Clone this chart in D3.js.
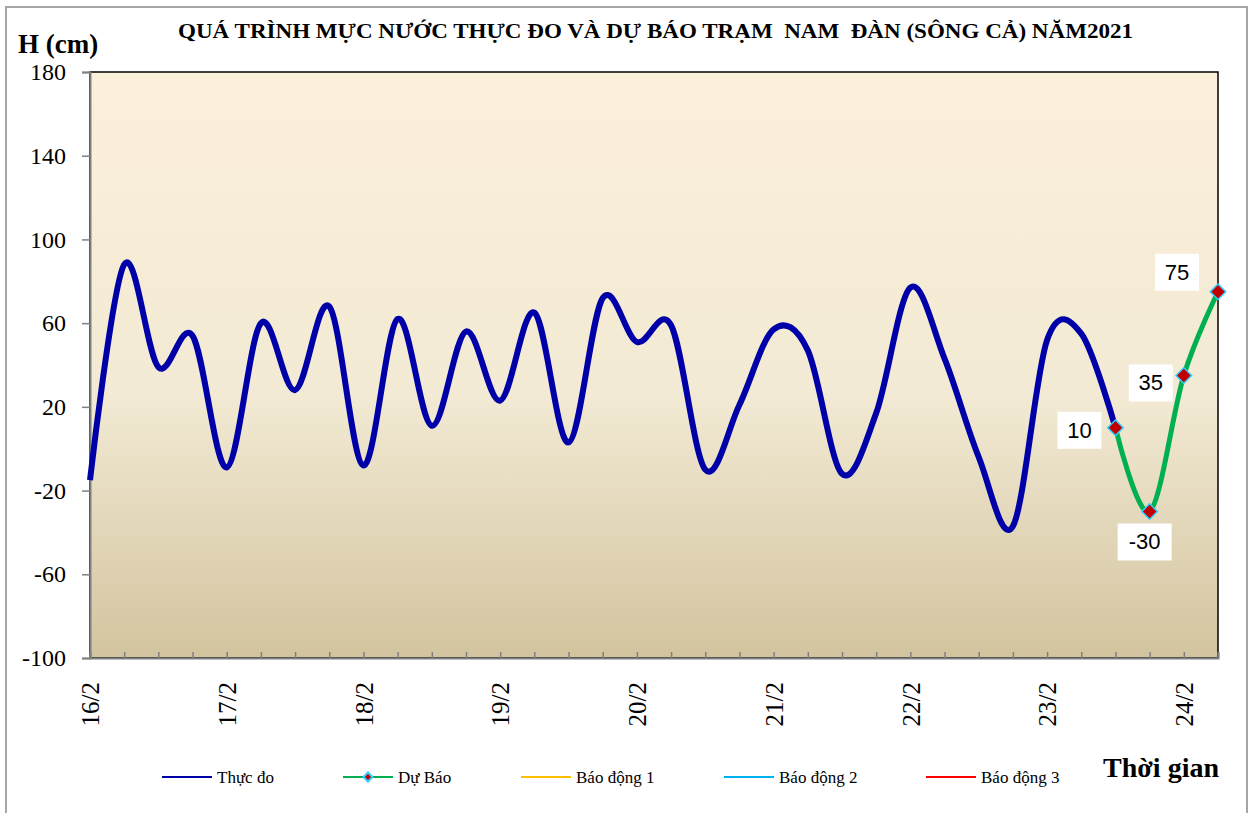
<!DOCTYPE html>
<html>
<head>
  <meta charset="UTF-8">
  <style>
    body { margin: 0; background: #fff; }
    text { font-family: "Liberation Serif", "Times New Roman", serif; }
    text.lbl { font-family: "Liberation Sans", Arial, sans-serif; }
  </style>
</head>
<body>
<svg></svg>
<script src="https://d3js.org/d3.v7.min.js"></script>
<script>
// 6-hourly steps from 16/2 00h to 24/2 06h
let dayLabels = ["16/2", "17/2", "18/2", "19/2", "20/2", "21/2", "22/2", "23/2", "24/2"];
let observed = [-15, 88, 39, 54, -9, 60, 28, 68, -8, 62, 11, 56, 23, 65, 3, 72, 51, 59,
                -10, 21, 57, 47, -12, 17, 77, 43, -4, -37, 52, 55, 10];
let forecastStart = 30;
let forecast = [10, -30, 35, 75];
let alarmNames = ["Báo động 1", "Báo động 2", "Báo động 3"];
let alarmLevels = [540, 690, 790];
let yTicks = [-100, -60, -20, 20, 60, 100, 140, 180];

let width = 1253, height = 813;
let margin = {left: 90, top: 72, right: 35, bottom: 155};
let nSteps = 33;
let serif = "'Liberation Serif', 'Times New Roman', serif";

let svg = d3.select("svg").attr("width", width).attr("height", height);

// outer chart frame
svg.append("rect")
    .attr("x", 6).attr("y", 7)
    .attr("width", 1241).attr("height", 830)
    .attr("fill", "none")
    .attr("stroke", "#a6a6a6")
    .attr("stroke-width", 2);

let x = d3.scaleLinear().domain([0, nSteps]).range([margin.left, width - margin.right]);
let y = d3.scaleLinear().domain([-100, 180]).range([height - margin.bottom, margin.top]);

// plot background gradient
let grad = svg.append("defs").append("linearGradient")
    .attr("id", "bg").attr("x1", 0).attr("y1", 0).attr("x2", 0).attr("y2", 1);
grad.append("stop").attr("offset", "0%").attr("stop-color", "#fdf0da");
grad.append("stop").attr("offset", "55%").attr("stop-color", "#f2ead4");
grad.append("stop").attr("offset", "100%").attr("stop-color", "#d3c49f");

svg.select("defs").append("clipPath").attr("id", "clip")
    .append("rect")
    .attr("x", x(0)).attr("y", y(180))
    .attr("width", x(nSteps) - x(0)).attr("height", y(-100) - y(180));

svg.append("rect")
    .attr("x", x(0)).attr("y", y(180))
    .attr("width", x(nSteps) - x(0)).attr("height", y(-100) - y(180))
    .attr("fill", "url(#bg)")
    .attr("stroke", "#000")
    .attr("stroke-width", 1.5);

// y axis
let yAxis = svg.append("g")
    .attr("transform", "translate(" + x(0) + ",0)")
    .call(d3.axisLeft(y).tickValues(yTicks).tickSize(8).tickPadding(16).tickFormat(d => String(d)));
yAxis.attr("font-family", null);
yAxis.select(".domain").attr("stroke", "#808080").attr("stroke-width", 2);
yAxis.selectAll(".tick line").attr("stroke", "#808080").attr("stroke-width", 1.5);
yAxis.selectAll("text")
    .style("font-family", serif)
    .style("font-size", "24px")
    .attr("fill", "#000");

// x axis: ticks every 6h, labels each day
let xAxis = svg.append("g")
    .attr("transform", "translate(0," + y(-100) + ")")
    .call(d3.axisBottom(x).tickValues(d3.range(0, nSteps + 1)).tickSize(-6)
        .tickFormat(d => d % 4 === 0 ? dayLabels[d / 4] : ""));
xAxis.attr("font-family", null);
xAxis.select(".domain").attr("stroke", "#808080").attr("stroke-width", 2);
xAxis.selectAll(".tick line").attr("stroke", "#808080").attr("stroke-width", 1.5);
xAxis.selectAll("text")
    .style("font-family", serif)
    .style("font-size", "25px")
    .attr("fill", "#000")
    .attr("text-anchor", "end")
    .attr("transform", "rotate(-90)")
    .attr("x", -24)
    .attr("y", 0)
    .attr("dy", "0.35em");

let line = d3.line()
    .x(d => x(d.i))
    .y(d => y(d.v))
    .curve(d3.curveCatmullRom.alpha(0));

let plot = svg.append("g").attr("clip-path", "url(#clip)");

// alarm levels (above the visible range)
let alarmColors = ["#ffc000", "#00b0f0", "#ff0000"];
alarmLevels.forEach((lv, k) => {
    plot.append("line")
        .attr("x1", x(0)).attr("x2", x(nSteps))
        .attr("y1", y(lv)).attr("y2", y(lv))
        .attr("stroke", alarmColors[k]).attr("stroke-width", 2);
});

let obsData = observed.map((v, i) => ({i: i, v: v}));
let fcData = forecast.map((v, i) => ({i: i + forecastStart, v: v}));

svg.append("path")
    .datum(obsData)
    .attr("d", line)
    .attr("fill", "none")
    .attr("stroke", "#0000a8")
    .attr("stroke-width", 6)
    .attr("stroke-linejoin", "round");

svg.append("path")
    .datum(fcData)
    .attr("d", line)
    .attr("fill", "none")
    .attr("stroke", "#00b050")
    .attr("stroke-width", 5);

let diamond = d3.symbol().type(d3.symbolSquare).size(120);
svg.append("g").selectAll("path")
    .data(fcData)
    .enter()
    .append("path")
    .attr("d", diamond)
    .attr("transform", d => "translate(" + x(d.i) + "," + y(d.v) + ") rotate(45)")
    .attr("fill", "#c00000")
    .attr("stroke", "#33ccff")
    .attr("stroke-width", 1.5);

// forecast data labels
let labelOffsets = [[-36, 2], [-5, 30], [-33, 7], [-41, -20]];
let labels = svg.append("g").selectAll("g")
    .data(fcData)
    .enter()
    .append("g")
    .attr("transform", (d, k) => "translate(" + (x(d.i) + labelOffsets[k][0]) + "," + (y(d.v) + labelOffsets[k][1]) + ")");
labels.append("rect")
    .attr("x", d => String(d.v).length > 2 ? -27 : -22)
    .attr("y", -18)
    .attr("width", d => String(d.v).length > 2 ? 54 : 44)
    .attr("height", 37)
    .attr("fill", "#fff");
labels.append("text")
    .attr("class", "lbl")
    .attr("text-anchor", "middle")
    .attr("dy", "0.36em")
    .attr("font-size", 22)
    .text(d => d.v);

// titles
svg.append("text")
    .attr("x", 178).attr("y", 38)
    .attr("font-weight", "bold")
    .attr("font-size", 21)
    .attr("textLength", 955)
    .attr("lengthAdjust", "spacingAndGlyphs")
    .style("white-space", "pre")
    .text("QUÁ TRÌNH MỰC NƯỚC THỰC ĐO VÀ DỰ BÁO TRẠM  NAM  ĐÀN (SÔNG CẢ) NĂM2021");

svg.append("text")
    .attr("x", 18).attr("y", 53)
    .attr("font-weight", "bold")
    .attr("font-size", 27)
    .text("H (cm)");

svg.append("text")
    .attr("x", 1219).attr("y", 777)
    .attr("text-anchor", "end")
    .attr("font-weight", "bold")
    .attr("font-size", 28)
    .text("Thời gian");

// legend
let legendItems = [
    {name: "Thực đo", color: "#0000a8", x: 162, marker: false},
    {name: "Dự Báo", color: "#00b050", x: 343, marker: true},
    {name: alarmNames[0], color: alarmColors[0], x: 521, marker: false},
    {name: alarmNames[1], color: alarmColors[1], x: 724, marker: false},
    {name: alarmNames[2], color: alarmColors[2], x: 926, marker: false}
];
let leg = svg.append("g").selectAll("g")
    .data(legendItems)
    .enter()
    .append("g")
    .attr("transform", d => "translate(" + d.x + ",777)");
leg.append("line")
    .attr("x1", 0).attr("x2", 50)
    .attr("stroke", d => d.color)
    .attr("stroke-width", 2);
leg.filter(d => d.marker).append("path")
    .attr("d", d3.symbol().type(d3.symbolSquare).size(40))
    .attr("transform", "translate(25,0) rotate(45)")
    .attr("fill", "#c00000")
    .attr("stroke", "#33ccff")
    .attr("stroke-width", 2);
leg.append("text")
    .attr("x", 55)
    .attr("y", 6)
    .attr("font-size", 17)
    .text(d => d.name);
</script>
</body>
</html>
